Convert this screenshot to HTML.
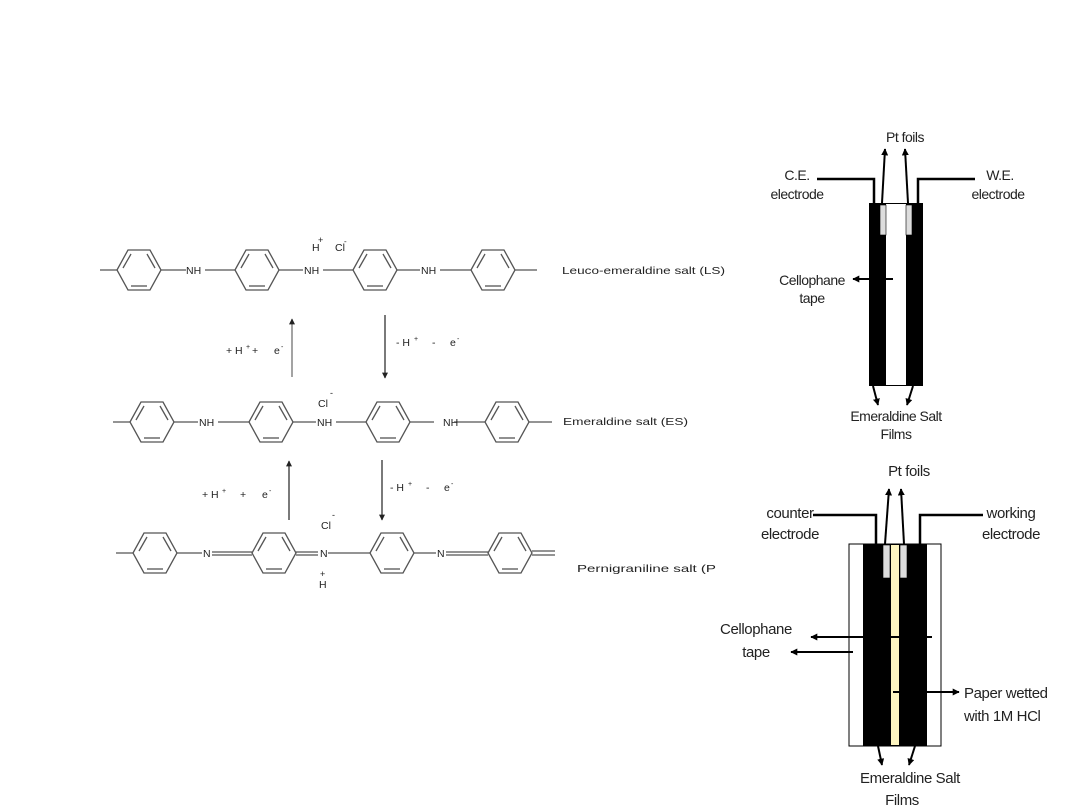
<!DOCTYPE html>
<html><head><meta charset="utf-8"><style>
html,body{margin:0;padding:0;background:#fff;width:1080px;height:810px;overflow:hidden}
svg{display:block}
text{font-family:"Liberation Sans",Arial,sans-serif;fill:#222}
</style></head><body>
<svg width="1080" height="810" viewBox="0 0 1080 810" xmlns="http://www.w3.org/2000/svg">
<defs>
<marker id="a" viewBox="0 0 10 10" refX="9" refY="5" markerWidth="5" markerHeight="5" orient="auto"><path d="M0,0L10,5L0,10z" fill="#222"/></marker>
<marker id="b" viewBox="0 0 10 10" refX="9" refY="5" markerWidth="3.5" markerHeight="3.5" orient="auto"><path d="M0,0L10,5L0,10z" fill="#000"/></marker>
<g id="ring" fill="none" stroke="#555" stroke-width="1.3">
<polygon points="-22,0 -11,-20 11,-20 22,0 11,20 -11,20"/>
<line x1="-16" y1="-2" x2="-8" y2="-16"/><line x1="8" y1="-16" x2="16" y2="-2"/><line x1="-8" y1="16" x2="8" y2="16"/>
</g>
</defs>
<g stroke="#555" stroke-width="1.3">
<line x1="100" y1="270" x2="117" y2="270"/><line x1="161" y1="270" x2="186" y2="270"/><line x1="205" y1="270" x2="235" y2="270"/>
<line x1="279" y1="270" x2="303" y2="270"/><line x1="323" y1="270" x2="353" y2="270"/>
<line x1="397" y1="270" x2="420" y2="270"/><line x1="440" y1="270" x2="471" y2="270"/><line x1="515" y1="270" x2="537" y2="270"/>
<line x1="113" y1="422" x2="130" y2="422"/><line x1="174" y1="422" x2="198" y2="422"/><line x1="218" y1="422" x2="249" y2="422"/>
<line x1="293" y1="422" x2="316" y2="422"/><line x1="336" y1="422" x2="366" y2="422"/>
<line x1="410" y1="422" x2="434" y2="422"/><line x1="454" y1="422" x2="485" y2="422"/><line x1="529" y1="422" x2="552" y2="422"/>
<line x1="116" y1="553" x2="133" y2="553"/><line x1="177" y1="553" x2="202" y2="553"/>
<line x1="212" y1="552" x2="252" y2="552"/><line x1="212" y1="555" x2="252" y2="555"/>
<line x1="296" y1="552" x2="318" y2="552"/><line x1="296" y1="555" x2="318" y2="555"/>
<line x1="328" y1="553" x2="370" y2="553"/><line x1="414" y1="553" x2="436" y2="553"/>
<line x1="446" y1="552" x2="488" y2="552"/><line x1="446" y1="555" x2="488" y2="555"/>
<line x1="532" y1="551" x2="555" y2="551"/><line x1="532" y1="555" x2="555" y2="555"/>
</g>
<use href="#ring" x="139" y="270"/><use href="#ring" x="257" y="270"/><use href="#ring" x="375" y="270"/><use href="#ring" x="493" y="270"/>
<use href="#ring" x="152" y="422"/><use href="#ring" x="271" y="422"/><use href="#ring" x="388" y="422"/><use href="#ring" x="507" y="422"/>
<use href="#ring" x="155" y="553"/><use href="#ring" x="274" y="553"/><use href="#ring" x="392" y="553"/><use href="#ring" x="510" y="553"/>
<g font-size="10.5">
<text x="186" y="274">NH</text><text x="304" y="274">NH</text><text x="421" y="274">NH</text>
<text x="312" y="251">H</text><text x="318" y="243" font-size="9">+</text><text x="335" y="251">Cl</text><text x="344" y="244" font-size="8">-</text>
<text x="199" y="426">NH</text><text x="317" y="426">NH</text><text x="443" y="426">NH</text>
<text x="318" y="407">Cl</text><text x="330" y="396" font-size="9">-</text>
<text x="203" y="557">N</text><text x="320" y="557">N</text><text x="437" y="557">N</text>
<text x="321" y="529">Cl</text><text x="332" y="518" font-size="9">-</text>
<text x="319" y="588">H</text><text x="320" y="577" font-size="9">+</text>
<text x="226" y="354">+ H</text><text x="246" y="349" font-size="7">+</text><text x="252" y="354">+</text><text x="274" y="354">e</text><text x="281" y="349" font-size="7">-</text>
<text x="396" y="346">- H</text><text x="414" y="341" font-size="7">+</text><text x="432" y="346">-</text><text x="450" y="346">e</text><text x="457" y="341" font-size="7">-</text>
<text x="202" y="498">+ H</text><text x="222" y="493" font-size="7">+</text><text x="240" y="498">+</text><text x="262" y="498">e</text><text x="269" y="493" font-size="7">-</text>
<text x="390" y="491">- H</text><text x="408" y="486" font-size="7">+</text><text x="426" y="491">-</text><text x="444" y="491">e</text><text x="451" y="486" font-size="7">-</text>
<text x="562" y="274" textLength="163" lengthAdjust="spacingAndGlyphs">Leuco-emeraldine salt (LS)</text>
<text x="563" y="425" textLength="125" lengthAdjust="spacingAndGlyphs">Emeraldine salt (ES)</text>
<text x="577" y="572" textLength="139" lengthAdjust="spacingAndGlyphs">Pernigraniline salt (P</text>
</g>
<g stroke="#222" stroke-width="1.2">
<line x1="292" y1="377" x2="292" y2="319" marker-end="url(#a)" stroke="#666"/>
<line x1="385" y1="315" x2="385" y2="378" marker-end="url(#a)"/>
<line x1="289" y1="520" x2="289" y2="461" marker-end="url(#a)"/>
<line x1="382" y1="460" x2="382" y2="520" marker-end="url(#a)"/>
</g>
<rect x="869" y="203" width="54" height="183" fill="#000"/>
<rect x="886" y="204" width="20" height="181" fill="#fff"/>
<rect x="880" y="205" width="6" height="30" fill="#ddd" stroke="#000" stroke-width="0.6"/>
<rect x="906" y="205" width="6" height="30" fill="#ddd" stroke="#000" stroke-width="0.6"/>
<g stroke="#000" stroke-width="2.5" fill="none">
<polyline points="817,179 874,179 874,203"/><polyline points="975,179 918,179 918,203"/>
</g>
<g stroke="#000" stroke-width="2">
<line x1="882" y1="203" x2="885" y2="149" marker-end="url(#b)"/>
<line x1="908" y1="203" x2="905" y2="149" marker-end="url(#b)"/>
<line x1="893" y1="279" x2="853" y2="279" marker-end="url(#b)"/>
<line x1="873" y1="386" x2="878" y2="405" marker-end="url(#b)"/>
<line x1="913" y1="386" x2="907" y2="405" marker-end="url(#b)"/>
</g>
<g font-size="14" text-anchor="middle" letter-spacing="-0.5">
<text x="905" y="142">Pt foils</text>
<text x="797" y="180">C.E.</text><text x="797" y="199">electrode</text>
<text x="1000" y="180">W.E.</text><text x="998" y="199">electrode</text>
<text x="812" y="285">Cellophane</text><text x="812" y="303">tape</text>
<text x="896" y="421">Emeraldine Salt</text><text x="896" y="439">Films</text>
</g>
<rect x="849" y="544" width="92" height="202" fill="#fff" stroke="#000" stroke-width="1"/>
<rect x="863" y="544" width="64" height="202" fill="#000"/>
<rect x="891" y="545" width="8" height="200" fill="#fdf5c0"/>
<rect x="883" y="545" width="7" height="33" fill="#ddd" stroke="#000" stroke-width="0.6"/>
<rect x="900" y="545" width="7" height="33" fill="#ddd" stroke="#000" stroke-width="0.6"/>
<g stroke="#000" stroke-width="2.5" fill="none">
<polyline points="813,515 876,515 876,544"/><polyline points="983,515 920,515 920,544"/>
</g>
<g stroke="#000" stroke-width="2">
<line x1="885" y1="544" x2="889" y2="489" marker-end="url(#b)"/>
<line x1="904" y1="544" x2="901" y2="489" marker-end="url(#b)"/>
<line x1="932" y1="637" x2="811" y2="637" marker-end="url(#b)"/>
<line x1="853" y1="652" x2="791" y2="652" marker-end="url(#b)"/>
<line x1="893" y1="692" x2="959" y2="692" marker-end="url(#b)"/>
<line x1="878" y1="746" x2="882" y2="765" marker-end="url(#b)"/>
<line x1="915" y1="746" x2="909" y2="765" marker-end="url(#b)"/>
</g>
<g font-size="15" text-anchor="middle" letter-spacing="-0.4">
<text x="909" y="476">Pt foils</text>
<text x="790" y="518">counter</text><text x="790" y="539">electrode</text>
<text x="1011" y="518">working</text><text x="1011" y="539">electrode</text>
<text x="756" y="634">Cellophane</text><text x="756" y="657">tape</text>
<text x="910" y="783">Emeraldine Salt</text><text x="902" y="805">Films</text>
</g>
<g font-size="15" letter-spacing="-0.4">
<text x="964" y="698">Paper wetted</text><text x="964" y="721">with 1M HCl</text>
</g>
</svg>
</body></html>
